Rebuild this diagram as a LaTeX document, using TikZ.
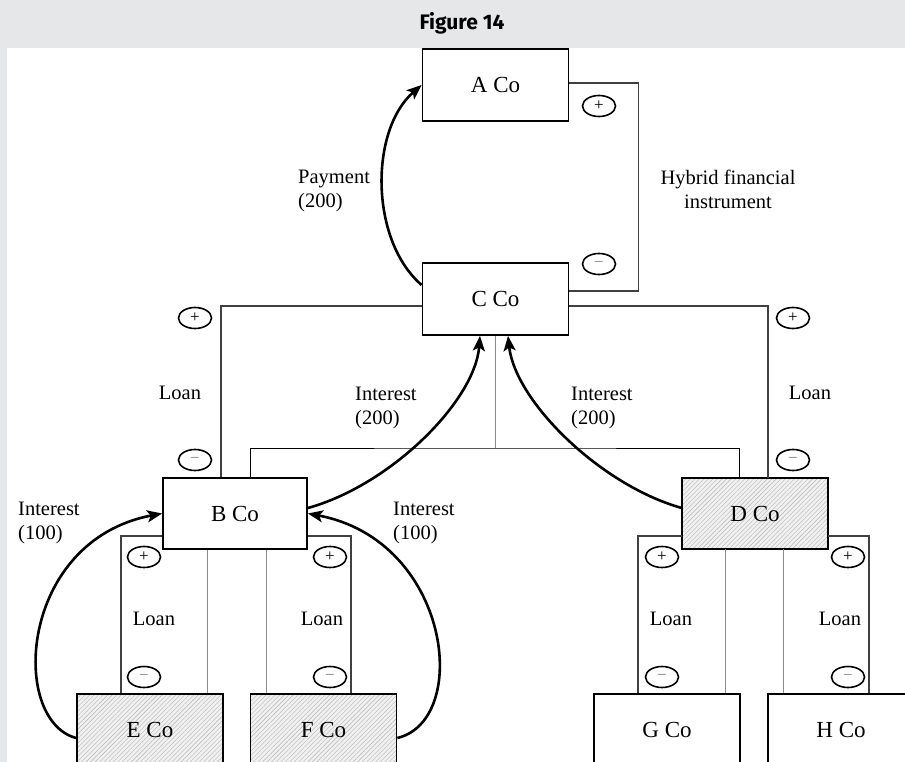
\documentclass[tikz,border=0pt]{standalone}
\usepackage{fontspec}
\setmainfont{Liberation Serif}
\newfontfamily\titlefont{Fira Sans}
\usetikzlibrary{arrows.meta,shapes.geometric,patterns.meta}

\definecolor{framegray}{HTML}{E6E7E8}
\definecolor{hatchbg}{HTML}{F0F0F0}
\definecolor{hatchline}{HTML}{B4B4B4}

\tikzset{
  company/.style={draw, line width=1.8pt, fill=white, inner sep=0pt,
    minimum width=146pt, minimum height=72pt,
    font=\fontsize{23}{26}\selectfont},
  hatched/.style={company, fill=none,
    preaction={fill=hatchbg},
    pattern={Lines[angle=45,distance=3.2pt,line width=0.4pt]},
    pattern color=hatchline},
  sign/.style={ellipse, draw, line width=1.6pt, inner sep=0pt,
    minimum width=33pt, minimum height=21pt,
    font=\fontsize{17}{17}\selectfont},
  minus/.style={sign, text=black!50},
  label/.style={inner sep=0pt, font=\fontsize{20.5}{24}\selectfont},
  loanline/.style={draw=black!75, line width=1.1pt},
  tieline/.style={draw=black!45, line width=1pt},
  flow/.style={draw=black, line width=2.6pt,
    -{Stealth[length=15pt,width=12pt,inset=3.5pt]}},
}

\begin{document}
\begin{tikzpicture}[x=1pt,y=-1pt]
  \useasboundingbox (0,0) rectangle (905,762);
  \clip (0,0) rectangle (905,762);

  % frame and title band
  \fill[framegray] (0,0) rectangle (905,762);
  \fill[white] (7,48) rectangle (905,762);
  \node[inner sep=0pt, font=\titlefont\bfseries\fontsize{21}{24}\selectfont]
    (title) at (462,23) {Figure 14};

  % companies
  \node[company] (A) at (495.5,85)  {A Co};
  \node[company] (C) at (495.5,299) {C Co};
  \node[company, minimum width=144pt, minimum height=71pt] (B) at (235,513.5) {B Co};
  \node[hatched, minimum height=71pt] (D) at (755,513.5) {D Co};
  \node[hatched] (E) at (150,730) {E Co};
  \node[hatched] (F) at (323.5,730) {F Co};
  \node[company] (G) at (667,730) {G Co};
  \node[company] (H) at (841,730) {H Co};

  % hybrid financial instrument between A and C
  \draw[loanline] ([yshift=2]A.east) -- ++(69,0) |- ([yshift=8]C.east);
  \node[sign]  (hA) at (599,106) {+};
  \node[minus] (hC) at (599,264) {−};
  \node[label, anchor=north, align=center] (hybrid) at (728,170)
    {Hybrid financial\\instrument};

  % loans from C to B and D
  \draw[loanline] ([yshift=-7]C.west) -| ([xshift=-14]B.north);
  \draw[loanline] ([yshift=-7]C.east) -| ([xshift=13]D.north);
  \node[sign]  (cbp) at (195,318) {+};
  \node[minus] (cbm) at (195,460) {−};
  \node[sign]  (cdp) at (793,318) {+};
  \node[minus] (cdm) at (793,460) {−};
  \node[label, anchor=base] (loanCB) at (180,399) {Loan};
  \node[label, anchor=base] (loanCD) at (810,399) {Loan};

  % ownership links from C to B and D
  \coordinate (hub) at (495.5,448);
  \draw[tieline] (C.south) -- (hub);
  \draw[line width=1pt] ([xshift=15]B.north) |- (hub) -| ([xshift=-16]D.north);

  % loans from B to E and F
  \draw[loanline] ([yshift=-22.5]B.west) -| ([xshift=-29]E.north);
  \draw[loanline] ([yshift=-22.5]B.east) -| ([xshift=27.5]F.north);
  \draw[tieline] ([xshift=-28]B.south) -- ([xshift=-28]B.south |- E.north);
  \draw[tieline] ([xshift=31]B.south) -- ([xshift=31]B.south |- F.north);
  \node[sign]  (bep) at (144,557) {+};
  \node[minus] (bem) at (144,677) {−};
  \node[sign]  (bfp) at (330,557) {+};
  \node[minus] (bfm) at (330,677) {−};
  \node[label, anchor=base] (loanBE) at (154,625) {Loan};
  \node[label, anchor=base] (loanBF) at (322,625) {Loan};

  % loans from D to G and H
  \draw[loanline] ([yshift=-22.5]D.west) -| ([xshift=-29]G.north);
  \draw[loanline] ([yshift=-22.5]D.east) -| ([xshift=28]H.north);
  \draw[tieline] ([xshift=-30]D.south) -- ([xshift=-30]D.south |- G.north);
  \draw[tieline] ([xshift=28]D.south) -- ([xshift=28]D.south |- H.north);
  \node[sign]  (dgp) at (662,557) {+};
  \node[minus] (dgm) at (662,677) {−};
  \node[sign]  (dhp) at (848,557) {+};
  \node[minus] (dhm) at (848,677) {−};
  \node[label, anchor=base] (loanDG) at (671,625) {Loan};
  \node[label, anchor=base] (loanDH) at (840,625) {Loan};

  % payment flows
  \draw[flow] ([yshift=14]C.west) .. controls +(-52,-45) and +(-52,45) .. (A.west);
  \node[label, anchor=north west, align=left] (payCA) at (298,170) {Payment\\(200)};

  \draw[flow] ([yshift=5.5]B.east) .. controls +(83,-23) and +(-5,65) .. ([xshift=-15.5]C.south);
  \draw[flow] ([yshift=5.5]D.west) .. controls +(-82,-23) and +(7,65) .. ([xshift=12.5]C.south);
  \node[label, anchor=north west, align=left] (intBC) at (355,387) {Interest\\(200)};
  \node[label, anchor=north west, align=left] (intDC) at (571,387) {Interest\\(200)};

  \draw[flow] ([yshift=-8]E.west) .. controls +(-67,-18) and +(-143,27) .. (B.west);
  \draw[flow] ([yshift=-8]F.east) .. controls +(74,-18) and +(143,27) .. (B.east);
  \node[label, anchor=north west, align=left] (intEB) at (18,502) {Interest\\(100)};
  \node[label, anchor=north west, align=left] (intFB) at (393,502) {Interest\\(100)};
\end{tikzpicture}
\end{document}
